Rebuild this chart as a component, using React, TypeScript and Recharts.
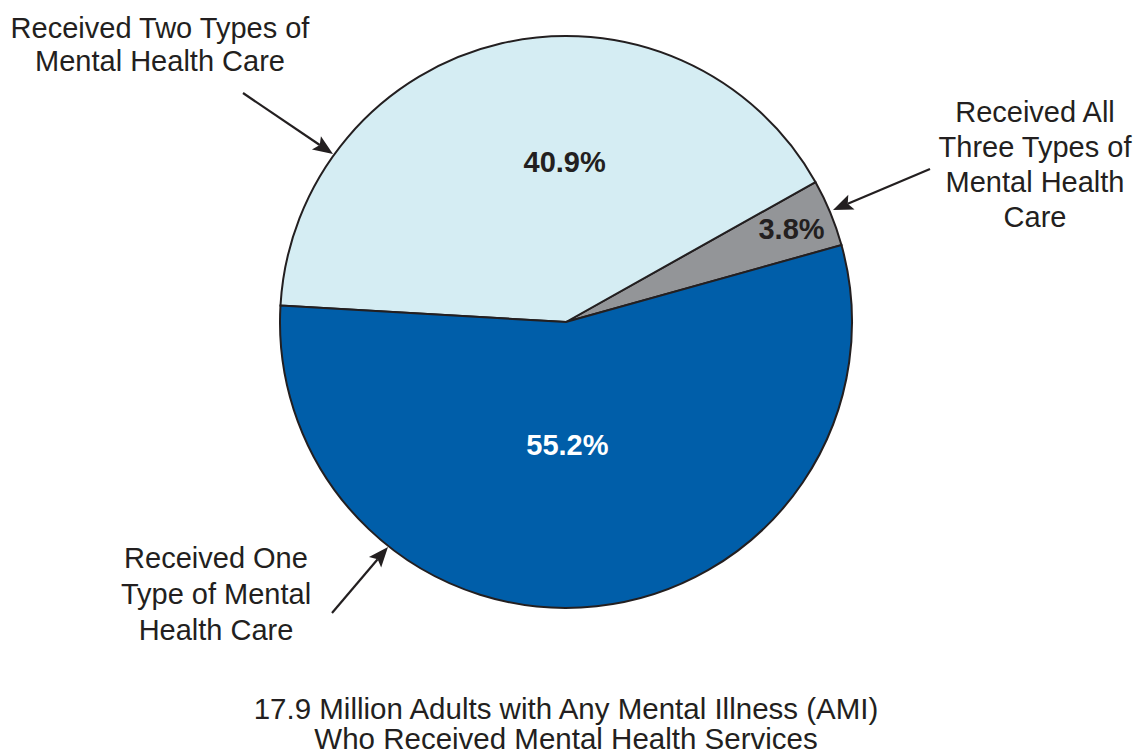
import React from 'react';
import { PieChart, Pie, Cell } from 'recharts';

const categories = ['Received All Three Types of Mental Health Care', 'Received Two Types of Mental Health Care', 'Received One Type of Mental Health Care'];
const shares = [3.8, 40.9, 55.2];
const valueLabels = ['3.8%', '40.9%', '55.2%'];
const colors = ['#939598', '#D5EDF3', '#005EA9'];
const labelColors = ['#231F20', '#231F20', '#FFFFFF'];
// label placement (angle offset in degrees from mid-angle, radius in px)
const labelPlacement = [
  { dAngle: 0, r: 244 },
  { dAngle: -12.5, r: 160 },
  { dAngle: -5.5, r: 123 },
];

const data = categories.map((name, i) => ({ name, value: shares[i] }));

const FONT = '"Liberation Sans", Arial, Helvetica, sans-serif';
const TEXT = '#231F20';
const RAD = Math.PI / 180;

const renderLabel = (props: any) => {
  const { cx, cy, midAngle, index } = props;
  const p = labelPlacement[index];
  const a = (midAngle + p.dAngle) * RAD;
  const x = cx + p.r * Math.cos(a);
  const y = cy - p.r * Math.sin(a);
  return (
    <text x={x} y={y} textAnchor="middle" dominantBaseline="central" fontFamily={FONT} fontWeight="bold" fontSize={29} fill={labelColors[index]}>
      {valueLabels[index]}
    </text>
  );
};

const Arrow = ({ x1, y1, x2, y2 }: { x1: number; y1: number; x2: number; y2: number }) => {
  const dx = x2 - x1;
  const dy = y2 - y1;
  const len = Math.sqrt(dx * dx + dy * dy);
  const ux = dx / len;
  const uy = dy / len;
  const headL = 20;
  const headW = 8;
  const bx = x2 - ux * headL;
  const by = y2 - uy * headL;
  const px = -uy;
  const py = ux;
  const notch = 4;
  const pts = `${x2},${y2} ${bx + px * headW},${by + py * headW} ${x2 - ux * (headL - notch)},${y2 - uy * (headL - notch)} ${bx - px * headW},${by - py * headW}`;
  return (
    <g>
      <line x1={x1} y1={y1} x2={bx + ux * 4} y2={by + uy * 4} stroke={TEXT} strokeWidth={2.2} />
      <polygon points={pts} fill={TEXT} />
    </g>
  );
};

const lines = (x: number, y0: number, dy: number, texts: string[], size: number) => (
  <text fontFamily={FONT} fontSize={size} fill={TEXT} textAnchor="middle">
    {texts.map((t, i) => (
      <tspan key={i} x={x} y={y0 + i * dy}>
        {t}
      </tspan>
    ))}
  </text>
);

export default function App() {
  return (
    <div style={{ position: 'absolute', left: 0, top: 0, width: 1137, height: 756, background: '#fff', overflow: 'hidden' }}>
      <PieChart width={1137} height={756} margin={{ top: 0, right: 0, bottom: 0, left: 0 }} style={{ position: 'absolute', left: 0, top: 0 }}>
        <Pie
          data={data}
          dataKey="value"
          nameKey="name"
          cx={566}
          cy={322}
          outerRadius={286}
          innerRadius={0}
          startAngle={15.6}
          endAngle={375.6}
          stroke={TEXT}
          strokeWidth={2}
          label={renderLabel}
          labelLine={false}
          isAnimationActive={false}
        >
          {data.map((d, i) => (
            <Cell key={d.name} fill={colors[i]} />
          ))}
        </Pie>
      </PieChart>
      <svg width={1137} height={756} style={{ position: 'absolute', left: 0, top: 0, pointerEvents: 'none' }}>
        {lines(160, 38, 33, ['Received Two Types of', 'Mental Health Care'], 29)}
        {lines(1035, 122, 35, ['Received All', 'Three Types of', 'Mental Health', 'Care'], 29)}
        {lines(216, 568, 36, ['Received One', 'Type of Mental', 'Health Care'], 29)}
        {lines(566, 719, 30, ['17.9 Million Adults with Any Mental Illness (AMI)', 'Who Received Mental Health Services'], 29.5)}
        <Arrow x1={243} y1={93} x2={333} y2={154} />
        <Arrow x1={930} y1={169} x2={833} y2={210} />
        <Arrow x1={332} y1={613} x2={388} y2={547} />
      </svg>
    </div>
  );
}
